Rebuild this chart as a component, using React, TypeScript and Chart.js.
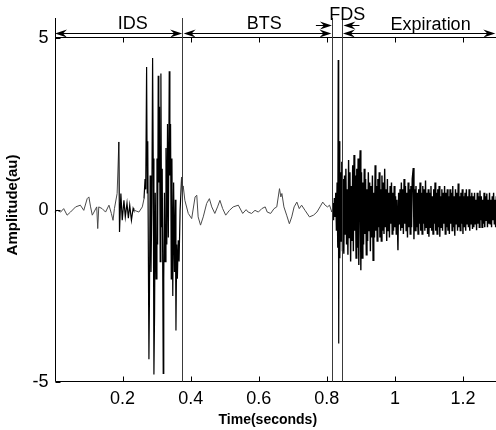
import React, { useEffect, useRef } from "react";
import { Chart, registerables } from "chart.js";

Chart.register(...registerables);

// Time axis ticks (seconds) and amplitude ticks
const xTicks = [0.2, 0.4, 0.6, 0.8, 1, 1.2];
const yTicks = [-5, 0, 5];

// Phase boundaries (seconds) and phase names
const boundaries = [0, 0.375, 0.815, 0.846];
const phaseNames = ["IDS", "BTS", "FDS", "Expiration"];
const phaseLabelTimes = [0.23, 0.616, 0.86, 1.105];
const expirationEnd = 1.295;

// Signal, as [time (s), amplitude (au)] pairs
const preIdsSignal: number[][] = [
  [0, -0.06], [0.008, -0.01], [0.018, -0.06], [0.027, 0.04], [0.037, -0.15], [0.047, -0.06],
  [0.062, 0.09], [0.076, 0.14], [0.086, -0.01], [0.096, 0.33], [0.101, 0.38], [0.106, 0.09],
  [0.111, -0.15], [0.116, -0.06], [0.124, 0.09], [0.127, -0.54], [0.13, 0.09], [0.14, 0.04],
  [0.15, -0.06], [0.16, 0.14], [0.167, -0.1], [0.172, -0.3], [0.176, 0.04], [0.184, 0.48],
  [0.189, 1.98], [0.191, -0.64], [0.195, 0.48], [0.199, -0.3], [0.204, 0.28], [0.208, -0.2],
  [0.213, 0.2], [0.217, -0.24], [0.221, 0.14], [0.226, -0.3], [0.231, 0.05], [0.233, 0],
  [0.24, -0.03], [0.248, -0.06], [0.258, 0.09], [0.263, 0.33],
];

const idsBurst: number[][] = [
  [0.266, 0.9], [0.268, 0.6], [0.2706, 4.16], [0.2725, 0.5], [0.274, 2.0], [0.2774, -4.34],
  [0.279, -2.5], [0.281, 1.0], [0.2835, -1.8], [0.286, 0.2], [0.2882, 4.42], [0.29, 1.5],
  [0.2921, -4.78], [0.294, -3.0], [0.296, 0.5], [0.2985, -2.0], [0.301, 1.5], [0.303, -1.0],
  [0.3047, 3.9], [0.3065, 0.8], [0.3085, 3.0], [0.3105, -1.5], [0.3126, 3.97], [0.3145, -0.5],
  [0.3165, 1.2], [0.3194, -4.75], [0.321, -2.0], [0.323, 0.5], [0.325, -1.5], [0.3275, 1.8],
  [0.33, -1.0], [0.332, 2.5], [0.3345, -0.8], [0.3371, 4.03], [0.339, 1.0], [0.341, 2.5],
  [0.343, -2.0], [0.345, 1.5], [0.3475, -2.5], [0.35, 0.8], [0.3525, -1.8], [0.355, 0.3],
  [0.3568, -3.5], [0.359, -1.0], [0.361, -2.0], [0.3635, -0.88], [0.366, -1.5], [0.369, 0.0],
  [0.3735, 0.96], [0.376, 0.5], [0.3782, 0.7],
];

const btsSignal: number[][] = [
  [0.383, 0.28], [0.393, -0.1], [0.403, -0.25], [0.413, 0.38], [0.418, 0.43], [0.422, -0.2],
  [0.429, -0.44], [0.437, -0.2], [0.447, 0.19], [0.455, 0.33], [0.462, 0.09], [0.471, -0.1],
  [0.479, 0.09], [0.486, 0.28], [0.494, 0.04], [0.503, -0.15], [0.514, -0.01], [0.525, 0.09],
  [0.54, 0.14], [0.553, -0.1], [0.563, 0.01], [0.569, -0.06], [0.579, -0.1], [0.589, -0.01],
  [0.599, -0.06], [0.609, 0.04], [0.619, 0.09], [0.625, -0.06], [0.635, -0.1], [0.645, 0.04],
  [0.653, 0.09], [0.661, 0.62], [0.665, 0.38], [0.668, 0.48], [0.674, 0.09], [0.682, -0.15],
  [0.69, -0.4], [0.697, -0.2], [0.704, 0.09], [0.712, 0.23], [0.719, 0.04], [0.726, 0.14],
  [0.736, -0.01], [0.749, -0.2], [0.761, -0.15], [0.771, -0.06], [0.78, 0.09], [0.788, 0.23],
  [0.795, 0.14], [0.802, 0.09], [0.808, 0.14], [0.815, -0.06],
];

const expirationSignal: number[][] = [
  [0.816, -0.05], [0.818, 0.2], [0.82, -0.3], [0.822, 0.35], [0.824, -0.2], [0.826, 0.5],
  [0.828, -0.6], [0.83, 0.8], [0.832, -1.1], [0.8335, 4.36], [0.835, -3.88], [0.8365, 2.0],
  [0.838, -1.4], [0.84, 1.1], [0.842, -0.9], [0.844, 1.4], [0.846, -1.2], [0.848, 0.9],
  [0.85, -1.27], [0.852, 1.0], [0.854, -0.7], [0.856, 1.2], [0.858, -1.0], [0.86, 0.6],
  [0.862, -1.3], [0.864, 1.45], [0.866, -0.8], [0.868, 1.1], [0.87, -1.5], [0.872, 0.7],
  [0.874, -0.9], [0.876, 1.3], [0.878, -1.2], [0.88, 1.6], [0.882, -0.6], [0.884, 1.0],
  [0.886, -1.4], [0.888, 1.2], [0.89, -1.1], [0.892, 1.5], [0.894, -1.6], [0.896, 0.9],
  [0.898, 1.74], [0.9, -1.75], [0.902, 1.1], [0.904, -1.4], [0.906, 0.8], [0.908, -1.0],
  [0.91, 1.2], [0.912, -0.7], [0.914, 0.9], [0.916, -1.3], [0.918, 0.6], [0.92, -0.9],
  [0.922, 1.1], [0.924, -0.6], [0.926, 0.8], [0.928, -1.2], [0.93, 0.7], [0.932, -0.8],
  [0.934, 1.0], [0.936, -1.46], [0.938, 0.5], [0.94, -0.8], [0.942, 1.3], [0.944, -0.6],
  [0.946, 0.7], [0.948, -0.9], [0.95, 0.9], [0.952, -0.5], [0.954, 1.1], [0.956, -0.8],
  [0.958, 0.6], [0.96, -0.9], [0.962, 1.0], [0.964, -0.6], [0.966, 0.8], [0.968, -0.7],
  [0.97, 1.2], [0.972, -0.5], [0.974, 0.6], [0.976, -0.9], [0.978, 0.9], [0.98, -0.6],
  [0.982, 0.5], [0.984, -0.8], [0.986, 0.7], [0.988, -0.4], [0.99, 0.8], [0.992, -0.7],
  [0.994, 0.5], [0.996, -0.6], [0.998, 0.7], [1.0, -0.5], [1.002, 0.4], [1.004, -0.7],
  [1.006, 0.3], [1.009, -1.17], [1.011, 0.5], [1.013, -0.4], [1.015, 0.6], [1.017, -0.6],
  [1.019, 0.8], [1.021, -0.5], [1.023, 0.6], [1.025, -0.7], [1.027, 0.9], [1.029, -0.4],
  [1.031, 0.7], [1.033, -0.6], [1.035, 0.5], [1.037, -0.8], [1.039, 0.8], [1.041, -0.5],
  [1.043, 0.6], [1.045, -0.7], [1.047, 0.7], [1.049, -0.5], [1.051, 0.9], [1.054, 1.22],
  [1.056, -0.85], [1.058, 0.6], [1.06, -0.6], [1.062, 0.7], [1.064, -0.5], [1.066, 0.5],
  [1.068, -0.7], [1.07, 0.6], [1.072, -0.4], [1.074, 0.8], [1.076, -0.6], [1.078, 0.5],
  [1.08, -0.7], [1.082, 0.7], [1.084, -0.4], [1.086, 0.6], [1.088, -0.6], [1.09, 0.86],
  [1.092, -0.5], [1.094, 0.5], [1.096, -0.7], [1.098, 0.6], [1.1, -0.78], [1.102, 0.5],
  [1.104, -0.5], [1.106, 0.7], [1.108, -0.6], [1.11, 0.4], [1.112, -0.7], [1.114, 0.6],
  [1.116, -0.4], [1.118, 0.8], [1.12, -0.6], [1.122, 0.5], [1.124, -0.7], [1.126, 0.6],
  [1.128, -0.5], [1.13, 0.7], [1.132, -0.78], [1.134, 0.4], [1.136, -0.5], [1.138, 0.6],
  [1.14, -0.6], [1.142, 0.5], [1.144, -0.4], [1.146, 0.7], [1.148, -0.7], [1.15, 0.5],
  [1.152, -0.5], [1.154, 0.6], [1.156, -0.6], [1.158, 0.4], [1.16, -0.7], [1.162, 0.6],
  [1.164, -0.4], [1.166, 0.5], [1.168, -0.6], [1.17, 0.7], [1.172, -0.5], [1.174, 0.4],
  [1.176, -0.75], [1.178, 0.6], [1.18, -0.4], [1.182, 0.5], [1.184, -0.6], [1.186, 0.77],
  [1.188, -0.5], [1.19, 0.4], [1.192, -0.6], [1.194, 0.5], [1.196, -0.4], [1.198, 0.6],
  [1.2, -0.7], [1.202, 0.4], [1.204, -0.5], [1.206, 0.5], [1.208, -0.6], [1.21, 0.6],
  [1.212, -0.4], [1.214, 0.4], [1.216, -0.5], [1.218, 0.6], [1.22, -0.6], [1.222, 0.4],
  [1.224, -0.4], [1.226, 0.5], [1.228, -0.55], [1.23, 0.4], [1.232, -0.5], [1.234, 0.5],
  [1.236, -0.4], [1.238, 0.3], [1.24, -0.59], [1.242, 0.5], [1.244, -0.4], [1.246, 0.4],
  [1.248, -0.5], [1.25, 0.57], [1.252, -0.3], [1.254, 0.4], [1.256, -0.5], [1.258, 0.3],
  [1.26, -0.4], [1.262, 0.5], [1.264, -0.5], [1.266, 0.4], [1.268, -0.3], [1.27, 0.48],
  [1.272, -0.5], [1.274, 0.3], [1.276, -0.4], [1.278, 0.5], [1.28, -0.4], [1.282, 0.3],
  [1.284, -0.5], [1.286, 0.4], [1.288, -0.3], [1.29, 0.5], [1.292, -0.4], [1.294, 0.3],
  [1.296, -0.5], [1.298, 0.4], [1.3, -0.2],
];

const FONT = '"Liberation Sans", Arial, Helvetica, sans-serif';

function drawHead(ctx: CanvasRenderingContext2D, tipX: number, y: number, dir: number) {
  ctx.beginPath();
  ctx.moveTo(tipX, y);
  ctx.lineTo(tipX - dir * 12, y - 4);
  ctx.lineTo(tipX - dir * 8, y);
  ctx.lineTo(tipX - dir * 12, y + 4);
  ctx.closePath();
  ctx.fill();
}

const phasePlugin = {
  id: "phaseAnnotations",
  afterDraw(chart: any) {
    const ctx: CanvasRenderingContext2D = chart.ctx;
    const { left, right, top, bottom } = chart.chartArea;
    const xs = chart.scales.x;
    const ys = chart.scales.y;
    const px = (v: number) => Math.round(xs.getPixelForValue(v)) + 0.5;
    ctx.save();

    // frame (left, bottom, top)
    ctx.strokeStyle = "#000";
    ctx.lineWidth = 1;
    const l = Math.round(left) + 0.5;
    const b = Math.round(bottom) - 0.5;
    const t = Math.round(top) - 0.5;
    ctx.beginPath();
    ctx.moveTo(l, b);
    ctx.lineTo(right + 2, b);
    ctx.moveTo(l, t);
    ctx.lineTo(right + 2, t);
    ctx.stroke();

    // inward ticks
    ctx.beginPath();
    xTicks.forEach((v) => {
      const x = px(v);
      ctx.moveTo(x, b);
      ctx.lineTo(x, b - 5);
      ctx.moveTo(x, t);
      ctx.lineTo(x, t + 5);
    });
    yTicks.forEach((v) => {
      const y = Math.round(ys.getPixelForValue(v)) + 0.5;
      ctx.moveTo(l, y);
      ctx.lineTo(l + 5, y);
    });
    ctx.stroke();

    // phase boundary lines
    const lineTop = top - 20;
    ctx.strokeStyle = "#3a3a3a";
    ctx.beginPath();
    boundaries.forEach((v) => {
      const x = px(v);
      ctx.moveTo(x, lineTop);
      ctx.lineTo(x, b);
    });
    ctx.stroke();
    ctx.strokeStyle = "#000";
    ctx.beginPath();
    ctx.moveTo(l, lineTop);
    ctx.lineTo(l, b);
    ctx.stroke();

    // double arrows
    ctx.fillStyle = "#000";
    ctx.strokeStyle = "#000";
    const ay = t - 4;
    const spans = [
      [boundaries[0], boundaries[1]],
      [boundaries[1], boundaries[2]],
      [boundaries[3], expirationEnd],
    ];
    spans.forEach(([a, c], i) => {
      const xa = xs.getPixelForValue(a) + (i === 1 ? 1.5 : 0.5);
      const xc = xs.getPixelForValue(c) - (i === 1 ? 0.5 : 0);
      ctx.beginPath();
      ctx.moveTo(xa + 6, ay);
      ctx.lineTo(xc - 6, ay);
      ctx.stroke();
      drawHead(ctx, xa, ay, -1);
      drawHead(ctx, xc, ay, 1);
    });

    // FDS inward arrows
    const fy = t - 12;
    const x1 = xs.getPixelForValue(boundaries[2]);
    const x2 = xs.getPixelForValue(boundaries[3]) + 1;
    ctx.beginPath();
    ctx.moveTo(x1 - 16, fy);
    ctx.lineTo(x1 - 6, fy);
    ctx.moveTo(x2 + 6, fy);
    ctx.lineTo(x2 + 16, fy);
    ctx.stroke();
    drawHead(ctx, x1, fy, 1);
    drawHead(ctx, x2, fy, -1);

    // phase labels
    const rise = [9.5, 9.5, 18, 8];
    ctx.font = `18px ${FONT}`;
    ctx.textAlign = "center";
    ctx.textBaseline = "alphabetic";
    phaseNames.forEach((name, i) => {
      ctx.fillText(name, xs.getPixelForValue(phaseLabelTimes[i]), top - rise[i]);
    });

    // axis titles
    ctx.font = `bold 14px ${FONT}`;
    ctx.textBaseline = "middle";
    ctx.fillText("Time(seconds)", left + (right - left) * 0.482, 420);
    ctx.save();
    ctx.translate(13, (top + bottom) / 2 - 5);
    ctx.rotate(-Math.PI / 2);
    ctx.font = `bold 15px ${FONT}`;
    ctx.fillText("Amplitude(au)", 0, 0);
    ctx.restore();

    ctx.restore();
  },
};

const isDense = (t: number) =>
  (t >= 0.185 && t <= 0.232) || (t >= 0.262 && t <= 0.372) || t >= 0.815;

export default function App() {
  const canvasRef = useRef<HTMLCanvasElement | null>(null);

  useEffect(() => {
    const canvas = canvasRef.current;
    if (!canvas) return;
    const points = [...preIdsSignal, ...idsBurst, ...btsSignal, ...expirationSignal].map(
      ([x, y]) => ({ x, y })
    );
    const chart = new Chart(canvas, {
      type: "line",
      data: {
        datasets: [
          {
            data: points,
            borderColor: "#000",
            borderWidth: 1,
            pointRadius: 0,
            tension: 0,
            fill: false,
            segment: {
              borderColor: (c: any) => (isDense(c.p0.parsed.x) ? "#000" : "#4a4a4a"),
              borderWidth: (c: any) => (c.p0.parsed.x >= 0.836 ? 1.4 : isDense(c.p0.parsed.x) ? 1.2 : 1),
            },
          },
        ],
      },
      options: {
        animation: false,
        responsive: true,
        maintainAspectRatio: false,
        events: [],
        layout: { padding: { top: 38, right: 0, bottom: 0, left: 0 } },
        plugins: { legend: { display: false }, tooltip: { enabled: false } },
        scales: {
          x: {
            type: "linear",
            min: 0,
            max: 1.3,
            grid: { display: false, drawTicks: false },
            border: { display: false },
            afterBuildTicks: (scale: any) => {
              scale.ticks = xTicks.map((v) => ({ value: v }));
            },
            afterFit: (scale: any) => {
              scale.height = 48;
            },
            ticks: {
              autoSkip: false,
              maxRotation: 0,
              padding: 6,
              color: "#000",
              font: { family: FONT, size: 18 },
              callback: (v: any) => String(v),
            },
            title: { display: false },
          },
          y: {
            type: "linear",
            min: -5,
            max: 5,
            grid: { display: false, drawTicks: false },
            border: { display: false },
            afterBuildTicks: (scale: any) => {
              scale.ticks = yTicks.map((v) => ({ value: v }));
            },
            afterFit: (scale: any) => {
              scale.width = 54.5;
            },
            ticks: {
              padding: 6,
              color: "#000",
              font: { family: FONT, size: 18 },
              callback: (v: any) => String(v),
            },
            title: { display: false },
          },
        },
      },
      plugins: [phasePlugin],
    });
    return () => chart.destroy();
  }, []);

  return (
    <div
      style={{
        position: "fixed",
        left: 0,
        top: 0,
        width: 496,
        height: 430,
        overflow: "hidden",
        background: "#fff",
      }}
    >
      <div style={{ position: "relative", width: 497, height: 430 }}>
        <canvas ref={canvasRef} />
      </div>
    </div>
  );
}
